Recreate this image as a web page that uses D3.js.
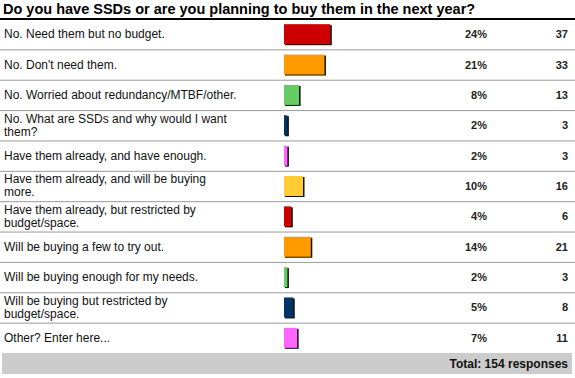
<!DOCTYPE html>
<html>
<head>
<meta charset="utf-8">
<script src="https://cdn.jsdelivr.net/npm/d3@7"></script>
<style>
  body { margin: 0; background: #fff; }
  svg { display: block; font-family: Arial, "Liberation Sans", sans-serif; }
</style>
</head>
<body>
<div id="chart"></div>
<script>
// Survey answers, percentages and response counts
const answers = [
  "No. Need them but no budget.",
  "No. Don't need them.",
  "No. Worried about redundancy/MTBF/other.",
  "No. What are SSDs and why would I want them?",
  "Have them already, and have enough.",
  "Have them already, and will be buying more.",
  "Have them already, but restricted by budget/space.",
  "Will be buying a few to try out.",
  "Will be buying enough for my needs.",
  "Will be buying but restricted by budget/space.",
  "Other? Enter here..."
];
const percents = [24, 21, 8, 2, 2, 10, 4, 14, 2, 5, 7];
const counts = [37, 33, 13, 3, 3, 16, 6, 21, 3, 8, 11];
const barColors = ["#cc0000", "#ff9900", "#66cc66", "#003366", "#ff66ff", "#ffcc33",
                   "#cc0000", "#ff9900", "#66cc66", "#003366", "#ff66ff"];
const title = "Do you have SSDs or are you planning to buy them in the next year?";
const totalLabel = "Total: 154 responses";

const width = 575, height = 378;
const tableTop = 19, tableBottom = 353;

const svg = d3.select("#chart")
  .append("svg")
  .attr("width", width)
  .attr("height", height);

const y = d3.scaleBand()
  .domain(answers)
  .range([tableTop, tableBottom]);

const x = d3.scaleLinear()
  .domain([0, 100])
  .range([0, 195]);

const barX = 284, barH = 20;

// Title
svg.append("text")
  .attr("x", 3)
  .attr("y", 14)
  .attr("font-size", "14.5px")
  .attr("font-weight", "bold")
  .attr("fill", "#000")
  .text(title);

svg.append("line")
  .attr("x1", 0).attr("x2", width)
  .attr("y1", tableTop).attr("y2", tableTop)
  .attr("stroke", "#000")
  .attr("stroke-width", 2);

const rows = svg.selectAll("g.row")
  .data(answers)
  .join("g")
  .attr("class", "row")
  .attr("transform", d => `translate(0,${y(d)})`);

const rowH = y.bandwidth();

// Row separators
rows.filter((d, i) => i > 0)
  .append("line")
  .attr("x1", 0).attr("x2", width)
  .attr("y1", 0.5).attr("y2", 0.5)
  .attr("stroke", "#9a9a9a")
  .attr("stroke-width", 1);

// Labels, wrapped to the label column
const maxLabelWidth = 235;
rows.each(function(d) {
  const g = d3.select(this);
  const t = g.append("text")
    .attr("x", 4)
    .attr("font-size", "12px")
    .attr("fill", "#111");
  const words = d.split(" ");
  let lines = [], line = [];
  const probe = t.append("tspan");
  words.forEach(w => {
    const test = line.concat(w).join(" ");
    probe.text(test);
    if (probe.node().getComputedTextLength() > maxLabelWidth && line.length) {
      lines.push(line.join(" "));
      line = [w];
    } else {
      line.push(w);
    }
  });
  lines.push(line.join(" "));
  probe.remove();
  const lh = 13;
  const y0 = rowH / 2 - (lines.length - 1) * lh / 2 + 4;
  lines.forEach((l, i) => {
    t.append("tspan")
      .attr("x", 4)
      .attr("y", y0 + i * lh)
      .text(l);
  });
});

// Bars with dark shadow edge
rows.append("rect")
  .attr("x", barX + 1)
  .attr("y", (rowH - barH) / 2 + 1)
  .attr("width", (d, i) => x(percents[i]))
  .attr("height", barH)
  .attr("fill", "#111");

rows.append("rect")
  .attr("x", barX)
  .attr("y", (rowH - barH) / 2)
  .attr("width", (d, i) => Math.max(x(percents[i]) - 0.5, 1.5))
  .attr("height", barH)
  .attr("fill", (d, i) => barColors[i]);

// Percent and count columns
rows.append("text")
  .attr("x", 487)
  .attr("y", rowH / 2 + 4)
  .attr("text-anchor", "end")
  .attr("font-size", "11px")
  .attr("font-weight", "bold")
  .attr("fill", "#222")
  .text((d, i) => percents[i] + "%");

rows.append("text")
  .attr("x", 568)
  .attr("y", rowH / 2 + 4)
  .attr("text-anchor", "end")
  .attr("font-size", "11px")
  .attr("font-weight", "bold")
  .attr("fill", "#222")
  .text((d, i) => counts[i]);

// Total bar
svg.append("rect")
  .attr("x", 2)
  .attr("y", tableBottom)
  .attr("width", 570)
  .attr("height", 21)
  .attr("fill", "#cccccc");

svg.append("text")
  .attr("x", 568)
  .attr("y", tableBottom + 15)
  .attr("text-anchor", "end")
  .attr("font-size", "12px")
  .attr("font-weight", "bold")
  .attr("fill", "#111")
  .text(totalLabel);
</script>
</body>
</html>
